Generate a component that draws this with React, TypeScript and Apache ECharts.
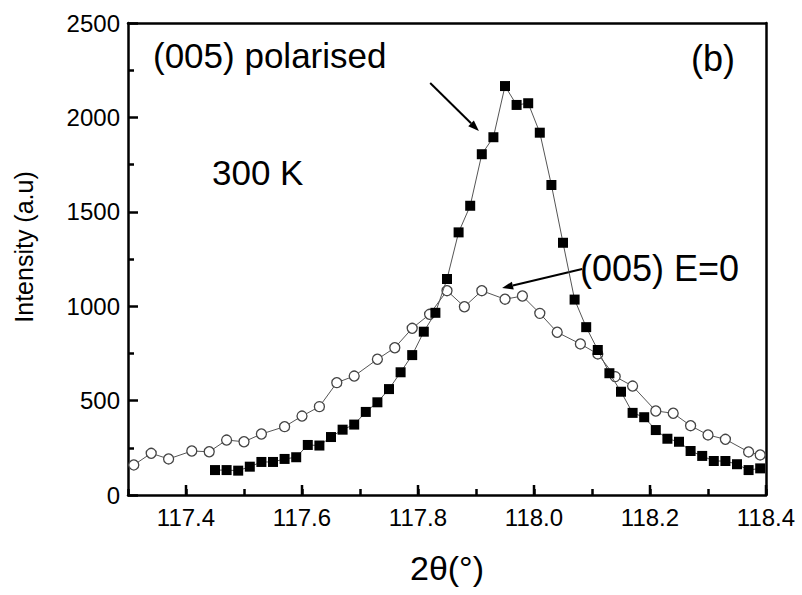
import React, { useEffect, useRef } from "react";
import * as echarts from "echarts";

const polarisedX = [117.45,117.47,117.49,117.51,117.53,117.55,117.57,117.59,117.61,117.63,117.65,117.67,117.69,117.71,117.73,117.75,117.77,117.79,117.81,117.83,117.85,117.87,117.89,117.91,117.93,117.95,117.97,117.99,118.01,118.03,118.05,118.07,118.09,118.11,118.13,118.15,118.17,118.19,118.21,118.23,118.25,118.27,118.29,118.31,118.33,118.35,118.37,118.39];
const polarisedY = [132,132,129,150,175,175,191,200,265,262,307,346,373,440,491,561,650,741,865,965,1144,1391,1532,1805,1895,2166,2066,2075,1919,1642,1336,1035,889,768,645,547,435,412,344,298,282,233,207,180,180,163,132,141];

const zeroFieldX = [117.31,117.34,117.37,117.41,117.44,117.47,117.50,117.53,117.57,117.60,117.63,117.66,117.69,117.73,117.76,117.79,117.82,117.85,117.88,117.91,117.95,117.98,118.01,118.04,118.08,118.11,118.14,118.17,118.21,118.24,118.27,118.30,118.33,118.37,118.39];
const zeroFieldY = [159,221,191,233,229,291,282,323,362,418,468,595,630,719,780,883,957,1082,997,1082,1037,1054,962,862,800,747,627,577,445,433,367,318,295,228,212];

const xMajorTicks = [117.4,117.6,117.8,118.0,118.2,118.4];

// annotation arrows in data coordinates: [fromX, fromY, toX, toY]
const arrowPolarised = [117.821, 2182, 117.905, 1928];
const arrowZero = [118.083, 1197, 117.945, 1096];

const FONT = "Liberation Sans, Arial, Helvetica, sans-serif";

export default function App() {
  const ref = useRef<HTMLDivElement>(null);
  useEffect(() => {
    if (!ref.current) return;
    const chart = echarts.init(ref.current, null, { renderer: "svg" });
    const polData = polarisedX.map((x, i) => [x, polarisedY[i]]);
    const zeroData = zeroFieldX.map((x, i) => [x, zeroFieldY[i]]);
    const isMajor = (v: number) => xMajorTicks.some((t) => Math.abs(t - v) < 1e-6);

    const px = (x: number, y: number) => chart.convertToPixel({ xAxisIndex: 0, yAxisIndex: 0 }, [x, y]) as number[];
    const arrow = (a: number[]) => {
      const p0 = px(a[0], a[1]);
      const p1 = px(a[2], a[3]);
      const dx = p1[0] - p0[0], dy = p1[1] - p0[1];
      const len = Math.sqrt(dx * dx + dy * dy);
      const ux = dx / len, uy = dy / len;
      const hl = 11, hw = 4;
      const bx = p1[0] - ux * hl, by = p1[1] - uy * hl;
      return [
        { type: "line", shape: { x1: p0[0], y1: p0[1], x2: bx, y2: by }, style: { stroke: "#000", lineWidth: 2 } },
        {
          type: "polygon",
          shape: { points: [[p1[0], p1[1]], [bx - uy * hw, by + ux * hw], [bx + uy * hw, by - ux * hw]] },
          style: { fill: "#000" },
        },
      ];
    };

    const baseOption: any = {
      animation: false,
      grid: { left: 128, right: 36, top: 23, bottom: 100, show: false },
      xAxis: [
        {
          type: "value", min: 117.3, max: 118.4, interval: 0.1,
          axisLine: { show: true, onZero: false, lineStyle: { color: "#000", width: 2.5 } },
          axisTick: { show: true, inside: true, length: 6, lineStyle: { color: "#000", width: 2.5 } },
          axisLabel: {
            color: "#000", fontSize: 24, margin: 10, fontFamily: FONT,
            formatter: (v: number) => (isMajor(v) ? v.toFixed(1) : ""),
          },
          splitLine: { show: false },
        },
        {
          type: "value", min: 117.3, max: 118.4, position: "top",
          axisLine: { show: true, onZero: false, lineStyle: { color: "#000", width: 2.5 } },
          axisTick: { show: false }, axisLabel: { show: false }, splitLine: { show: false },
        },
      ],
      yAxis: [
        {
          type: "value", min: 0, max: 2500, interval: 500,
          axisLine: { show: true, onZero: false, lineStyle: { color: "#000", width: 2.5 } },
          axisTick: { show: true, inside: true, length: 10, lineStyle: { color: "#000", width: 2.5 } },
          minorTick: { show: true, splitNumber: 2, length: 6, lineStyle: { color: "#000", width: 2.5 } },
          axisLabel: { color: "#000", fontSize: 24, margin: 8, fontFamily: FONT, formatter: (v: number) => String(v) },
          splitLine: { show: false },
        },
        {
          type: "value", min: 0, max: 2500, position: "right",
          axisLine: { show: true, onZero: false, lineStyle: { color: "#000", width: 2.5 } },
          axisTick: { show: false }, axisLabel: { show: false }, splitLine: { show: false },
        },
      ],
      series: [
        {
          name: "major x ticks", type: "custom", z: 10, clip: false, silent: true,
          data: xMajorTicks.map((t) => [t, 0]),
          renderItem: (params: any, api: any) => {
            const p = api.coord([api.value(0), api.value(1)]);
            return {
              type: "rect",
              shape: { x: p[0] - 1.25, y: p[1] - 10, width: 2.5, height: 10 },
              style: { fill: "#000" },
            };
          },
        },
        {
          name: "(005) E=0", type: "line", data: zeroData,
          symbol: "circle", symbolSize: 10,
          lineStyle: { color: "#555", width: 1 },
          itemStyle: { color: "#fff", borderColor: "#444", borderWidth: 1.3 },
          z: 2,
        },
        {
          name: "(005) polarised", type: "line", data: polData,
          symbol: "rect", symbolSize: 10,
          lineStyle: { color: "#555", width: 1 },
          itemStyle: { color: "#000" },
          z: 3,
        },
      ],
    };
    chart.setOption(baseOption);

    const graphic = [
      ...arrow(arrowPolarised),
      ...arrow(arrowZero),
      { type: "text", x: 153, y: 55, style: { text: "(005) polarised", font: `35px ${FONT}`, fill: "#000", textVerticalAlign: "middle" } },
      { type: "text", x: 735, y: 58, style: { text: "(b)", font: `36px ${FONT}`, fill: "#000", textAlign: "right", textVerticalAlign: "middle" } },
      { type: "text", x: 212, y: 172, style: { text: "300 K", font: `35px ${FONT}`, fill: "#000", textVerticalAlign: "middle" } },
      { type: "text", x: 580, y: 268, style: { text: "(005) E=0", font: `36px ${FONT}`, fill: "#000", textVerticalAlign: "middle" } },
      { type: "text", x: 447, y: 568, style: { text: "2θ(°)", font: `34px ${FONT}`, fill: "#000", textAlign: "center", textVerticalAlign: "middle" } },
      { type: "text", x: 24, y: 247, rotation: Math.PI / 2, style: { text: "Intensity (a.u)", font: `25px ${FONT}`, fill: "#000", textAlign: "center", textVerticalAlign: "middle" } },
    ];
    chart.setOption({ ...baseOption, graphic }, { notMerge: true });
    return () => chart.dispose();
  }, []);
  return <div ref={ref} style={{ position: "fixed", left: 0, top: 0, width: 802, height: 595, background: "#fff" }} />;
}
